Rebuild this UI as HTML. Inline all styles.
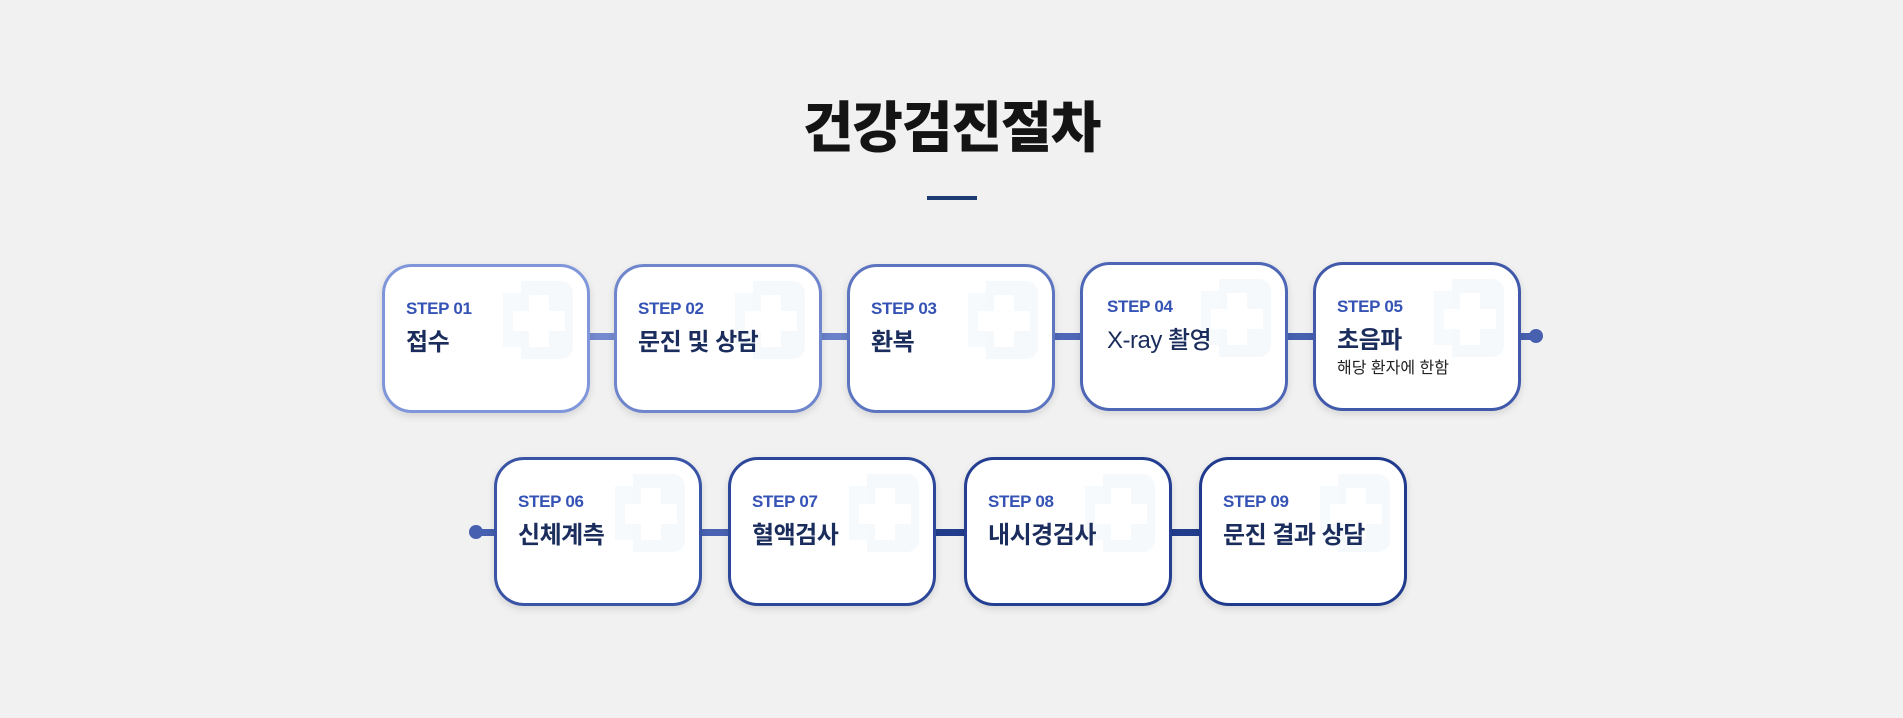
<!DOCTYPE html>
<html><head><meta charset="utf-8"><style>
body{margin:0;width:1903px;height:718px;background:#f1f1f1;position:relative;overflow:hidden;font-family:"Liberation Sans","Noto Sans CJK KR",sans-serif}
.t{position:absolute;left:0;width:1903px;top:90px;text-align:center;font-size:55px;font-weight:900;color:#141414;line-height:76px;letter-spacing:-1px}
.ul{position:absolute;left:927px;top:196px;width:50px;height:4px;background:#1e3a72}
.b{position:absolute;width:202px;height:143px;border:3px solid;border-radius:30px;background:#fff;box-shadow:0 3px 8px rgba(0,0,0,.12)}
.s{position:absolute;left:21px;top:32px;font-size:17px;font-weight:700;color:#3553b5;letter-spacing:-.3px}
.n{position:absolute;left:21px;top:55px;font-size:24px;font-weight:700;color:#1b2d5c;letter-spacing:-.5px}
.sub{position:absolute;left:21px;top:89px;font-size:16px;color:#222}
.ic{position:absolute;left:118px;top:14px}
.c{position:absolute;height:7px}
.dot{position:absolute;width:14px;height:14px;border-radius:50%}
</style></head><body>
<div class="t">건강검진절차</div><div class="ul"></div>

<div class="c" style="left:590px;top:333px;width:26px;background:#7489cf"></div>
<div class="c" style="left:822px;top:333px;width:26px;background:#6a80c8"></div>
<div class="c" style="left:1054px;top:333px;width:28px;background:#4f67b8"></div>
<div class="c" style="left:1286px;top:333px;width:29px;background:#4760b0"></div>
<div class="c" style="left:1519px;top:333px;width:18px;background:#4760b0"></div>
<div class="dot" style="left:1529px;top:329px;background:#4760b0"></div>

<div class="dot" style="left:469px;top:525px;background:#4760b0"></div>
<div class="c" style="left:476px;top:529px;width:20px;background:#4760b0"></div>
<div class="c" style="left:701px;top:529px;width:29px;background:#4a62b2"></div>
<div class="c" style="left:934px;top:529px;width:33px;background:#213d8c"></div>
<div class="c" style="left:1171px;top:529px;width:30px;background:#213d8c"></div>

<svg width="0" height="0" style="position:absolute"><defs><g id="x"><path d="M18 0h40a12 12 0 0 1 12 12v10h0v44a12 12 0 0 1-12 12H18z" fill="#f5f9fb"/><rect x="0" y="12" width="18" height="54" fill="#f6fafc"/><path d="M26 14h20v16h16v20H46v16H26V50H10V30h16z" fill="#fff"/></g></defs></svg>

<div class="b" style="left:382px;top:264px;border-color:#7f97da"><svg class="ic" width="80" height="80"><use href="#x"/></svg><div class="s">STEP 01</div><div class="n">접수</div></div>
<div class="b" style="left:614px;top:264px;border-color:#6f86cc"><svg class="ic" width="80" height="80"><use href="#x"/></svg><div class="s">STEP 02</div><div class="n">문진 및 상담</div></div>
<div class="b" style="left:847px;top:264px;border-color:#5d75c0"><svg class="ic" width="80" height="80"><use href="#x"/></svg><div class="s">STEP 03</div><div class="n">환복</div></div>
<div class="b" style="left:1080px;top:262px;border-color:#4d66b6"><svg class="ic" width="80" height="80"><use href="#x"/></svg><div class="s" style="left:24px">STEP 04</div><div class="n" style="left:24px;font-weight:500">X-ray 촬영</div></div>
<div class="b" style="left:1313px;top:262px;border-color:#4159aa"><svg class="ic" width="80" height="80"><use href="#x"/></svg><div class="s">STEP 05</div><div class="n">초음파</div><div class="sub">해당 환자에 한함</div></div>

<div class="b" style="left:494px;top:457px;border-color:#3a54a6"><svg class="ic" width="80" height="80"><use href="#x"/></svg><div class="s">STEP 06</div><div class="n">신체계측</div></div>
<div class="b" style="left:728px;top:457px;border-color:#2d479a"><svg class="ic" width="80" height="80"><use href="#x"/></svg><div class="s">STEP 07</div><div class="n">혈액검사</div></div>
<div class="b" style="left:964px;top:457px;border-color:#243f92"><svg class="ic" width="80" height="80"><use href="#x"/></svg><div class="s">STEP 08</div><div class="n">내시경검사</div></div>
<div class="b" style="left:1199px;top:457px;border-color:#203b8e"><svg class="ic" width="80" height="80"><use href="#x"/></svg><div class="s">STEP 09</div><div class="n">문진 결과 상담</div></div>
</body></html>
